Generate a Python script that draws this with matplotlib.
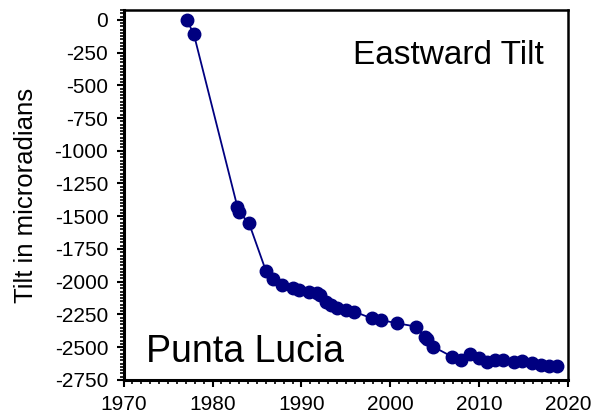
import matplotlib.pyplot as plt
import numpy as np
from matplotlib.ticker import MultipleLocator

plt.rcParams["font.family"] = "Liberation Sans"
plt.rcParams["axes.unicode_minus"] = False

# survey dates (decimal years) and eastward tilt (microradians)
years = [1977.1, 1977.9, 1982.8, 1983.0, 1984.1, 1986.0, 1986.8, 1987.8, 1989.0,
         1989.7, 1990.8, 1991.7, 1992.1, 1992.7, 1993.3, 1994.0, 1995.0, 1995.9,
         1997.9, 1998.9, 2000.7, 2002.9, 2003.9, 2004.1, 2004.8, 2006.9, 2007.9,
         2008.9, 2009.9, 2010.9, 2011.8, 2012.7, 2013.9, 2014.8, 2015.9, 2016.9,
         2017.8, 2018.7]
tilt = [0, -110, -1430, -1470, -1553, -1917, -1981, -2025, -2050,
        -2063, -2075, -2083, -2100, -2152, -2177, -2203, -2215, -2228,
        -2280, -2292, -2317, -2343, -2424, -2440, -2496, -2572, -2597,
        -2552, -2585, -2610, -2597, -2600, -2617, -2605, -2623, -2635,
        -2643, -2643]

fig = plt.figure(figsize=(5.97, 4.17), dpi=100)
ax = fig.add_axes([0.207, 0.089, 0.745, 0.887])

ax.plot(years, tilt, color="#000080", lw=1.3, marker="o", ms=9,
        markeredgecolor="#000080", markerfacecolor="#000080")

ax.set_xlim(1970, 2020)
ax.set_ylim(-2750, 75)
ax.set_xticks(np.arange(1970, 2021, 10))
ax.set_yticks(np.arange(-2750, 1, 250))
ax.xaxis.set_minor_locator(MultipleLocator(1))
ax.yaxis.set_minor_locator(MultipleLocator(25))
ax.tick_params(which="major", direction="out", length=5, width=1.5,
               labelsize=15, pad=6)
ax.tick_params(which="minor", direction="out", length=3, width=1.2)
for side in ["left", "bottom"]:
    ax.spines[side].set_linewidth(2.2)
for side in ["right", "top"]:
    ax.spines[side].set_linewidth(1.8)

ax.set_ylabel("Tilt in microradians", fontsize=18.5, labelpad=12)
ax.text(0.944, 0.878, "Eastward Tilt", transform=ax.transAxes, ha="right",
        va="center", fontsize=24)
ax.text(0.05, 0.075, "Punta Lucia", transform=ax.transAxes, ha="left",
        va="center", fontsize=27)

fig.savefig("out.png", dpi=100)
